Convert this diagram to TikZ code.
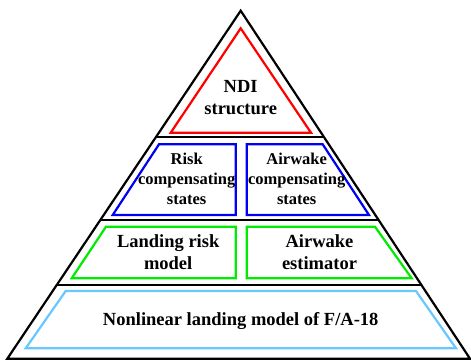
\documentclass[tikz,border=0pt]{standalone}
\usepackage{fontspec}
\setmainfont{Liberation Serif}
\usetikzlibrary{calc,positioning}

\definecolor{ndired}{RGB}{255,0,0}
\definecolor{compblue}{RGB}{0,0,245}
\definecolor{estgreen}{RGB}{0,235,0}
\definecolor{modelblue}{RGB}{102,200,255}

\begin{document}
\begin{tikzpicture}[x=1pt,y=-1pt,line width=2.2pt,
	lbl/.style={font=\bfseries\fontsize{18.5}{22}\selectfont,align=center,inner sep=0pt},
	smalllbl/.style={font=\bfseries\fontsize{16.5}{19.7}\selectfont,align=center,inner sep=0pt}]
	\useasboundingbox (0,0) rectangle (471,360);

	% outer pyramid
	\coordinate (apex) at (240.7,10.7);
	\coordinate (bl) at (7.3,358.7);
	\coordinate (br) at (470,358.7);
	\draw (apex) -- (br) -- (bl) -- cycle;

	\draw ($(apex)!0.364!(bl)$) -- ($(apex)!0.364!(br)$);
	\draw ($(apex)!0.601!(bl)$) -- ($(apex)!0.601!(br)$);
	\draw ($(apex)!0.788!(bl)$) -- ($(apex)!0.788!(br)$);

	% top
	\draw[ndired] (240.7,28.3) -- (311,132.7) -- (170.7,132.7) -- cycle;
	\node[lbl] (ndi) at (240.7,97.7) {NDI\\structure};

	% second row
	\draw[compblue] (159,144.3) -- (235.7,144.3) -- (235.7,215) -- (112.7,215) -- cycle;
	\draw[compblue] (246.7,144.3) -- (322.7,144.3) -- (369,215) -- (246.7,215) -- cycle;
	\node[smalllbl] (riskcomp) at (186.7,179) {Risk\\compensating\\states};
	\node[smalllbl] (wakecomp) at (296.7,179) {Airwake\\compensating\\states};

	% third row
	\draw[estgreen] (106,226.7) -- (235.7,226.7) -- (235.7,278.3) -- (71.7,278.3) -- cycle;
	\draw[estgreen] (246.7,226.7) -- (375,226.7) -- (411.7,278.3) -- (246.7,278.3) -- cycle;
	\node[lbl] (riskmodel) at (168.2,252) {Landing risk\\model};
	\node[lbl] (wakeest) at (319.5,252) {Airwake\\estimator};

	% base
	\draw[modelblue] (65.7,291) -- (416,291) -- (456,348.3) -- (25.7,348.3) -- cycle;
	\node[lbl,anchor=base] (landmodel) at (240.7,325) {Nonlinear landing model of F/A-18};

\end{tikzpicture}
\end{document}
